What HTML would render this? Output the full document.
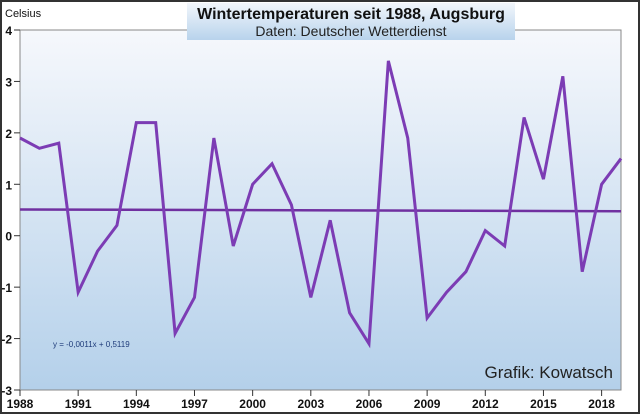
<!DOCTYPE html>
<html><head><meta charset="utf-8"><style>
html,body{margin:0;padding:0;background:#fff}
svg{display:block;font-family:"Liberation Sans",sans-serif}
</style></head><body>
<svg width="640" height="414" viewBox="0 0 640 414">
<defs>
<linearGradient id="bg" x1="0" y1="0" x2="0" y2="1">
<stop offset="0" stop-color="#f6f8fc"/><stop offset="1" stop-color="#b4d0ea"/>
</linearGradient>
<linearGradient id="tb" x1="0" y1="0" x2="0" y2="1">
<stop offset="0" stop-color="#f2f6fb"/><stop offset="1" stop-color="#b8d3ec"/>
</linearGradient>
</defs>
<rect x="1" y="1" width="638" height="412" fill="#fff" stroke="#333" stroke-width="2"/>
<rect x="20" y="30" width="601" height="360" fill="url(#bg)" stroke="#888" stroke-width="1"/>
<g id="axes"></g>
<g id="series"></g>
<rect x="187" y="3" width="328" height="37" fill="url(#tb)"/>
<text x="351" y="19" text-anchor="middle" font-size="16" font-weight="bold" fill="#111">Wintertemperaturen  seit 1988, Augsburg</text>
<text x="351" y="36" text-anchor="middle" font-size="14" fill="#222">Daten: Deutscher Wetterdienst</text>
<text x="5" y="17" font-size="11" fill="#111">Celsius</text>
<text x="53" y="347" font-size="8" fill="#1f3c7a">y = -0,0011x + 0,5119</text>
<text x="613" y="378" text-anchor="end" font-size="17" fill="#222">Grafik: Kowatsch</text>
</svg>
<script>
const years=[1988,1989,1990,1991,1992,1993,1994,1995,1996,1997,1998,1999,2000,2001,2002,2003,2004,2005,2006,2007,2008,2009,2010,2011,2012,2013,2014,2015,2016,2017,2018,2019];
const temps=[1.9,1.7,1.8,-1.1,-0.3,0.2,2.2,2.2,-1.9,-1.2,1.9,-0.2,1.0,1.4,0.6,-1.2,0.3,-1.5,-2.1,3.4,1.9,-1.6,-1.1,-0.7,0.1,-0.2,2.3,1.1,3.1,-0.7,1.0,1.5];
const yTicks=[4,3,2,1,0,-1,-2,-3];
const xTicks=[1988,1991,1994,1997,2000,2003,2006,2009,2012,2015,2018];
const trendSlope=-0.0011, trendIntercept=0.5119;
const NS="http://www.w3.org/2000/svg";
const X=y=>20+(y-1988)*(601/31);
const Y=v=>30+(4-v)*(360/7);
function mk(t,a,p){const e=document.createElementNS(NS,t);for(const k in a)e.setAttribute(k,a[k]);p.appendChild(e);return e;}
const ax=document.getElementById('axes'),se=document.getElementById('series');
yTicks.forEach(v=>{
 const l=mk('line',{x1:14,x2:20,y1:Y(v),y2:Y(v),stroke:'#333'},ax);
 
 
 const t=mk('text',{x:12,y:Y(v)+5,'text-anchor':'end','font-size':12,'font-weight':'bold',fill:'#111'},ax);
 t.textContent=v;
 
 
});
xTicks.forEach(v=>{
 const l=mk('line',{x1:X(v),x2:X(v),y1:390,y2:396,stroke:'#333'},ax);
 
 
 const t=mk('text',{x:X(v),y:408,'text-anchor':'middle','font-size':12,'font-weight':'bold',fill:'#111'},ax);
 t.textContent=v;
 
 
});
const tr=mk('line',{x1:X(years[0]),x2:X(years[years.length-1]),y1:Y(trendIntercept+trendSlope*1),y2:Y(trendIntercept+trendSlope*years.length),stroke:'#7030a0','stroke-width':2.5},se);


const pl=mk('polyline',{points:years.map((y,i)=>X(y)+','+Y(temps[i])).join(' '),fill:'none',stroke:'#7c3cb4','stroke-width':3,'stroke-linejoin':'miter'},se);


</script>
</body></html>
